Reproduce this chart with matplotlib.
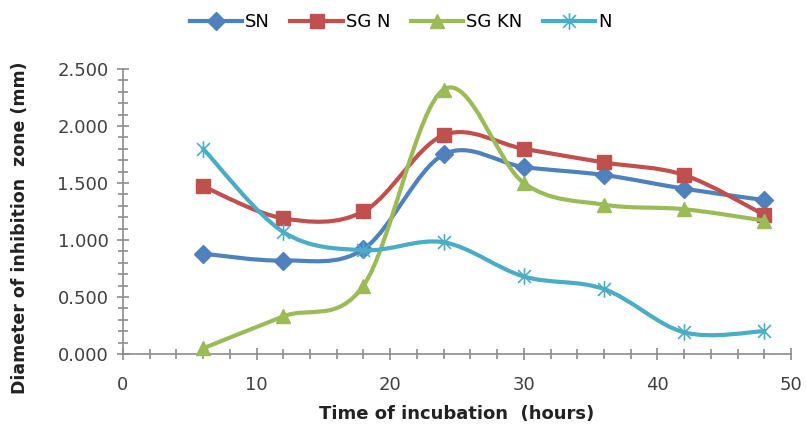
import matplotlib
matplotlib.use("Agg")
import matplotlib.pyplot as plt
from matplotlib.path import Path
from matplotlib.patches import PathPatch
from matplotlib.lines import Line2D
from matplotlib.ticker import MultipleLocator, FuncFormatter

hours = [6, 12, 18, 24, 30, 36, 42, 48]
sn = [0.88, 0.82, 0.92, 1.75, 1.64, 1.57, 1.45, 1.35]
sgn = [1.47, 1.19, 1.25, 1.92, 1.80, 1.68, 1.57, 1.22]
sgkn = [0.05, 0.33, 0.60, 2.32, 1.50, 1.31, 1.27, 1.17]
n = [1.80, 1.07, 0.91, 0.98, 0.68, 0.57, 0.19, 0.20]
series_names = ["SN", "SG N", "SG KN", "N"]

colors = ["#4F81BD", "#C0504D", "#9BBB59", "#4BACC6"]

star = Path([(-1, -1), (1, 1), (-1, 1), (1, -1), (0, -1.3), (0, 1.3)],
            [Path.MOVETO, Path.LINETO, Path.MOVETO, Path.LINETO, Path.MOVETO, Path.LINETO])
markers = [("D", 9), ("s", 10), ("^", 10.5), (star, 12)]


def smooth_path(xs, ys):
    pts = list(zip(xs, ys))
    verts = [pts[0]]
    codes = [Path.MOVETO]
    m = len(pts)
    for i in range(m - 1):
        p0 = pts[i - 1] if i > 0 else pts[i]
        p1 = pts[i]
        p2 = pts[i + 1]
        p3 = pts[i + 2] if i + 2 < m else pts[i + 1]
        c1 = (p1[0] + (p2[0] - p0[0]) / 6, p1[1] + (p2[1] - p0[1]) / 6)
        c2 = (p2[0] - (p3[0] - p1[0]) / 6, p2[1] - (p3[1] - p1[1]) / 6)
        verts += [c1, c2, p2]
        codes += [Path.CURVE4] * 3
    return Path(verts, codes)


fig = plt.figure(figsize=(8.06, 4.29), dpi=100)
ax = fig.add_axes([0.1526, 0.1748, 0.8288, 0.6644])

handles = []
for k, ys in enumerate([sn, sgn, sgkn, n]):
    c = colors[k]
    mk, ms = markers[k]
    patch = PathPatch(smooth_path(hours, ys), facecolor="none", edgecolor=c,
                      lw=3, zorder=3 + k, capstyle="round", joinstyle="round")
    ax.add_patch(patch)
    if mk is star:
        kw = dict(markeredgecolor=c, markeredgewidth=1.2)
    else:
        kw = dict(color=c, markeredgecolor=c)
    ax.plot(hours, ys, linestyle="none", marker=mk, markersize=ms,
            zorder=3.5 + k, clip_on=False, **kw)
    handles.append(Line2D([], [], color=c, lw=3, marker=mk, markersize=ms, **{
        k2: v for k2, v in kw.items() if k2 != "color"}))

ax.set_xlim(0, 50)
ax.set_ylim(0, 2.5)
ax.xaxis.set_major_locator(MultipleLocator(10))
ax.xaxis.set_minor_locator(MultipleLocator(2))
ax.yaxis.set_major_locator(MultipleLocator(0.5))
ax.yaxis.set_minor_locator(MultipleLocator(0.1))
ax.yaxis.set_major_formatter(FuncFormatter(lambda v, p: f"{v:.3f}"))

gray = "#8C8C8C"
for s in ["top", "right"]:
    ax.spines[s].set_visible(False)
for s in ["left", "bottom"]:
    ax.spines[s].set_color(gray)
    ax.spines[s].set_linewidth(1.2)

ax.tick_params(axis="both", which="major", direction="inout", length=9, width=1.2,
               color=gray, labelsize=13, labelcolor="#404040")
ax.tick_params(axis="both", which="minor", direction="inout", length=7, width=1.2, color=gray)
ax.tick_params(axis="x", pad=11)
ax.tick_params(axis="y", pad=6)

ax.set_xlabel("Time of incubation  (hours)", fontsize=13, fontweight="bold", color="#222222")
ax.set_ylabel("Diameter of inhibition  zone (mm)", fontsize=12.5, fontweight="bold", color="#222222")
ax.xaxis.set_label_coords(0.5, -0.178)
ax.yaxis.set_label_coords(-0.141, 0.442)

fig.legend(handles, series_names, loc="center", bbox_to_anchor=(0.497, 0.949), ncol=4,
           frameon=False, fontsize=13, handlelength=2.9, columnspacing=1.15,
           handletextpad=0.15)

fig.savefig("out.png", dpi=100)
